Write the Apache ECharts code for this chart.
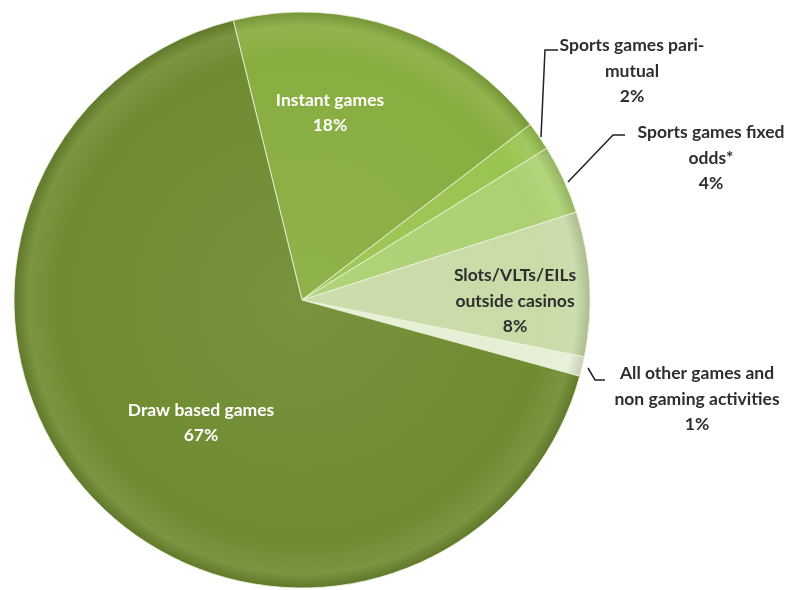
<!DOCTYPE html>
<html>
<head>
<meta charset="utf-8">
<script src="https://cdn.jsdelivr.net/npm/echarts@6/dist/echarts.min.js"></script>
<style>
html,body{margin:0;padding:0;background:#fff;}
#c{width:799px;height:590px;}
</style>
</head>
<body>
<div id="c"></div>
<script>
// Data
const categories = [
  'Instant games',
  'Sports games pari-\nmutual',
  'Sports games fixed\nodds*',
  'Slots/VLTs/EILs\noutside casinos',
  'All other games and\nnon gaming activities',
  'Draw based games'
];
const values = [18.4, 1.6, 3.9, 8.1, 1.1, 66.9];

// Styles (kept separate from data)
const baseColors = ['#88ad40', '#9ac451', '#acd071', '#c9dba7', '#e6efd6', '#6f8c31'];
const labelColors = ['#ffffff', '#2e2e2e', '#2e2e2e', '#2e2e2e', '#2e2e2e', '#ffffff'];
const CX = 302, CY = 300, R = 288;
const labelPos = [
  [330, 113], [632, 71], [711, 158], [515, 301], [697, 399], [201, 423]
];
const leaderLines = [
  null,
  [[541, 137], [545, 50], [558, 50]],
  [[568, 182], [613, 135], [625, 135]],
  null,
  [[588, 368], [595, 380], [605, 380]],
  null
];

function shade(hex, f) {
  const n = parseInt(hex.slice(1), 16);
  let r = (n >> 16) & 255, g = (n >> 8) & 255, b = n & 255;
  const adj = c => Math.max(0, Math.min(255, Math.round(f >= 0 ? c + (255 - c) * f : c * (1 + f))));
  return 'rgb(' + adj(r) + ',' + adj(g) + ',' + adj(b) + ')';
}

const seriesData = categories.map((name, i) => ({
  name: name,
  value: values[i],
  itemStyle: {
    color: {
      type: 'radial', x: CX, y: CY, r: R, global: true,
      colorStops: [
        { offset: 0, color: shade(baseColors[i], 0.06) },
        { offset: 0.85, color: baseColors[i] },
        { offset: 0.95, color: shade(baseColors[i], 0.08) },
        { offset: 1, color: shade(baseColors[i], -0.14) }
      ]
    }
  },
  label: { color: labelColors[i] },
  labelLine: { show: leaderLines[i] !== null }
}));

const chart = echarts.init(document.getElementById('c'), null, { renderer: 'canvas' });
chart.setOption({
  backgroundColor: '#ffffff',
  animation: false,
  series: [{
    type: 'pie',
    center: [CX, CY],
    radius: [0, R],
    startAngle: 103.8,
    clockwise: true,
    percentPrecision: 0,
    avoidLabelOverlap: false,
    data: seriesData,
    itemStyle: {
      borderColor: 'rgba(235,242,220,0.85)',
      borderWidth: 1
    },
    label: {
      show: true,
      position: 'outside',
      formatter: '{b}\n{d}%',
      fontFamily: 'Lato, "Open Sans", sans-serif',
      fontWeight: 'bold',
      fontSize: 17.5,
      lineHeight: 25.5,
      align: 'center',
      verticalAlign: 'middle'
    },
    labelLine: {
      show: true,
      lineStyle: { color: '#222222', width: 1.5 }
    },
    labelLayout: function (params) {
      const i = params.dataIndex;
      const res = {
        x: labelPos[i][0],
        y: labelPos[i][1],
        align: 'center',
        verticalAlign: 'middle'
      };
      if (leaderLines[i]) res.labelLinePoints = leaderLines[i];
      return res;
    }
  }]
});
</script>
</body>
</html>
